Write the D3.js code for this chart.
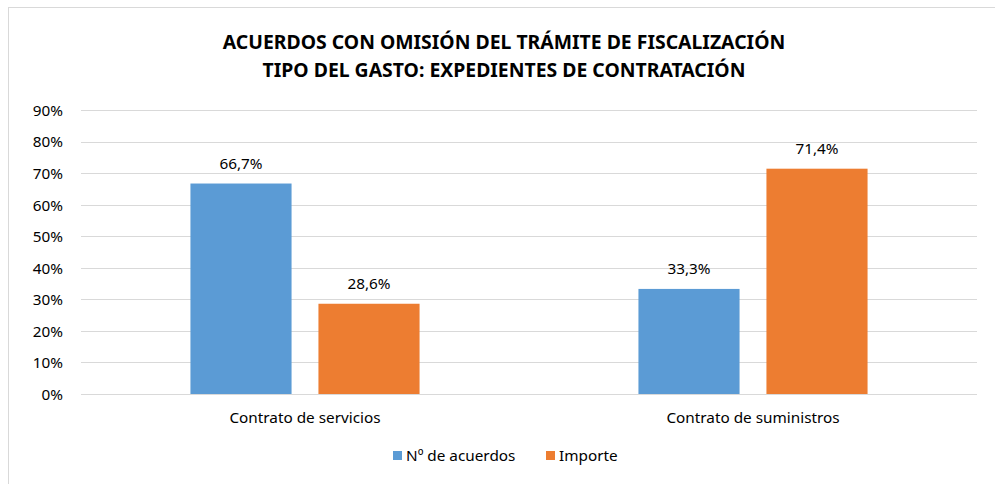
<!DOCTYPE html>
<html>
<head>
<meta charset="utf-8">
<script src="https://cdn.jsdelivr.net/npm/d3@7"></script>
<style>
	body { margin: 0; background: #fff; }
	svg text { font-family: "Noto Sans", "Open Sans", sans-serif; fill: #000; }
</style>
</head>
<body>
<div id="chart"></div>
<script>
const categories = ["Contrato de servicios", "Contrato de suministros"];
const series = ["Nº de acuerdos", "Importe"];
const acuerdos = [0.667, 0.333];
const importe = [0.286, 0.714];
const yTicks = [0, 0.1, 0.2, 0.3, 0.4, 0.5, 0.6, 0.7, 0.8, 0.9];
const titleLines = ["ACUERDOS CON OMISIÓN DEL TRÁMITE DE FISCALIZACIÓN",
					"TIPO DEL GASTO: EXPEDIENTES DE CONTRATACIÓN"];

const colors = d3.scaleOrdinal().domain(series).range(["#5B9BD5", "#ED7D31"]);
const width = 995, height = 484;
const margin = {top: 110, right: 18, bottom: 90, left: 81};
const fs = 15.3;

const es = d3.formatLocale({decimal: ",", thousands: ".", grouping: [3], currency: ["", " €"]});
const pct0 = es.format(".0%");
const pct1 = es.format(".1%");

const rows = categories.map((c, i) => ({cat: c, values: [acuerdos[i], importe[i]]}));

const svg = d3.select("#chart").append("svg")
	.attr("width", width)
	.attr("height", height);

// chart frame
svg.append("rect")
	.attr("x", 8.5).attr("y", 7.5)
	.attr("width", width + 10).attr("height", height + 10)
	.attr("fill", "none")
	.attr("stroke", "#d9d9d9");

const title = svg.append("text")
	.attr("text-anchor", "middle")
	.attr("font-weight", "bold")
	.attr("font-size", 19.4);
titleLines.forEach((t, i) => {
	title.append("tspan").attr("x", 504).attr("y", 49 + i * 28).text(t);
});

const y = d3.scaleLinear()
			.domain([0, 0.9])
			.range([height - margin.bottom, margin.top]);
const x0 = d3.scaleBand()
			.domain(categories)
			.range([margin.left, width - margin.right]);
const x1 = d3.scaleBand()
			.domain(series)
			.range([0, x0.bandwidth()])
			.paddingInner(0.21)
			.paddingOuter(0.855);

// gridlines
svg.append("g")
	.selectAll("line")
	.data(yTicks).enter()
	.append("line")
		.attr("x1", margin.left).attr("x2", width - margin.right)
		.attr("y1", (d) => Math.round(y(d)) + 0.5)
		.attr("y2", (d) => Math.round(y(d)) + 0.5)
		.attr("stroke", "#d9d9d9");

const yAxis = svg.append("g")
	.attr("transform", `translate(${margin.left - 18},0)`)
	.call(d3.axisLeft(y).tickValues(yTicks).tickFormat(pct0).tickSize(0).tickPadding(0));
yAxis.select(".domain").remove();
yAxis.selectAll("text").attr("font-size", fs).attr("dy", "0.35em")
	.style("font-family", null);

const groups = svg.append("g")
	.selectAll("g")
	.data(rows).enter()
	.append("g")
		.attr("transform", (d) => `translate(${x0(d.cat)},0)`);

groups.selectAll("rect")
	.data((d) => d.values.map((v, i) => ({s: series[i], v: v}))).enter()
	.append("rect")
		.attr("x", (d) => x1(d.s))
		.attr("y", (d) => y(d.v))
		.attr("width", x1.bandwidth())
		.attr("height", (d) => y(0) - y(d.v))
		.attr("fill", (d) => colors(d.s));

groups.selectAll("text.lab")
	.data((d) => d.values.map((v, i) => ({s: series[i], v: v}))).enter()
	.append("text")
		.attr("class", "lab")
		.attr("x", (d) => x1(d.s) + x1.bandwidth() / 2)
		.attr("y", (d) => y(d.v) - 15)
		.attr("text-anchor", "middle")
		.attr("font-size", fs)
		.text((d) => pct1(d.v));

const xAxis = svg.append("g")
	.attr("transform", `translate(0,${y(0)})`)
	.call(d3.axisBottom(x0).tickSize(0).tickPadding(18));
xAxis.select(".domain").remove();
xAxis.selectAll("text").attr("font-size", fs)
	.style("font-family", null);

// legend
const legendX = [393, 546];
const legend = svg.append("g")
	.selectAll("g")
	.data(series).enter()
	.append("g")
		.attr("transform", (d, i) => `translate(${legendX[i]},451)`);
legend.append("rect")
	.attr("width", 9).attr("height", 9)
	.attr("fill", (d) => colors(d));
legend.append("text")
	.attr("x", 13).attr("y", 10)
	.attr("font-size", fs)
	.text((d) => d);
</script>
</body>
</html>
